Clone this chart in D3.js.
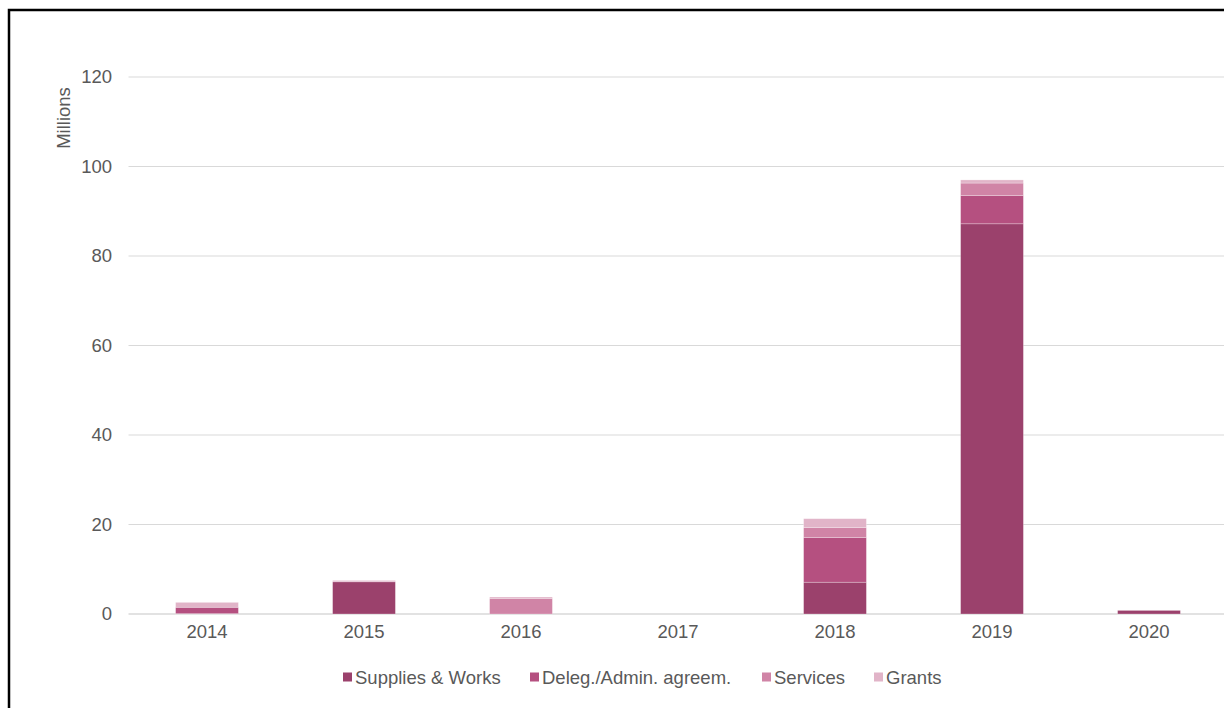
<!DOCTYPE html>
<html>
<head>
<meta charset="utf-8">
<script src="https://cdn.jsdelivr.net/npm/d3@7"></script>
<style>
  html, body { margin: 0; padding: 0; background: #fff; }
  svg { display: block; font-family: "Liberation Sans", Arial, sans-serif; }
</style>
</head>
<body>
<svg id="chart" width="1224" height="708"></svg>
<script>
// Contract amounts per year (millions), by contract type
const years = ["2014", "2015", "2016", "2017", "2018", "2019", "2020"];
const seriesNames = ["Supplies & Works", "Deleg./Admin. agreem.", "Services", "Grants"];
const suppliesWorks = [0.1, 7.2, 0, 0, 7.1, 87.2, 0.8];
const delegAdmin    = [1.4, 0, 0, 0, 10.0, 6.3, 0];
const services      = [0, 0, 3.5, 0, 2.2, 2.8, 0];
const grants        = [1.1, 0.3, 0.3, 0, 2.0, 0.7, 0];
const yTicks = [0, 20, 40, 60, 80, 100, 120];
const colors = ["#9b416c", "#b55080", "#d084a6", "#e1b4c8"];

const seriesValues = [suppliesWorks, delegAdmin, services, grants];
const rows = years.map((y, i) => {
  const r = { year: y };
  seriesNames.forEach((s, k) => { r[s] = seriesValues[k][i]; });
  return r;
});

const FONT = "18.5px";
const svg = d3.select("#chart");

// outer frame
svg.append("rect")
  .attr("x", 9).attr("y", 10)
  .attr("width", 1240).attr("height", 720)
  .attr("fill", "none").attr("stroke", "#000").attr("stroke-width", 2.5);

const plot = { left: 128.5, right: 1227.5, top: 77, bottom: 614 };

const x = d3.scaleBand().domain(years)
  .range([plot.left, plot.right])
  .paddingInner(0.6).paddingOuter(0.3);

const y = d3.scaleLinear().domain([0, 120]).range([plot.bottom, plot.top]);

// gridlines
const grid = svg.append("g");
grid.selectAll("line").data(yTicks).join("line")
  .attr("x1", plot.left).attr("x2", 1224)
  .attr("y1", d => y(d)).attr("y2", d => y(d))
  .attr("stroke", "#d9d9d9")
  .attr("stroke-width", d => d === 0 ? 1.5 : 1);

// y axis labels
const yAxis = d3.axisLeft(y).tickValues(yTicks).tickSize(0).tickPadding(0);
svg.append("g")
  .attr("transform", `translate(112,0)`)
  .call(yAxis)
  .call(g => g.select(".domain").remove())
  .call(g => g.selectAll("text")
    .attr("fill", "#595959")
    .style("font-size", FONT)
    .style("font-family", "Liberation Sans, Arial, sans-serif"));

svg.append("text")
  .attr("transform", "translate(70,118) rotate(-90)")
  .attr("text-anchor", "middle")
  .attr("fill", "#595959")
  .style("font-size", FONT)
  .text("Millions");

// stacked bars
const stack = d3.stack().keys(seriesNames);
const layers = stack(rows);

svg.append("g").selectAll("g").data(layers).join("g")
  .attr("fill", (d, i) => colors[i])
  .selectAll("rect").data(d => d).join("rect")
  .attr("x", d => x(d.data.year))
  .attr("width", x.bandwidth())
  .attr("y", d => y(d[1]))
  .attr("height", d => Math.max(0, y(d[0]) - y(d[1])))
  .attr("stroke", "#ffffff")
  .attr("stroke-opacity", 0.35)
  .attr("stroke-width", d => (d[1] - d[0]) > 0 ? 0.75 : 0);

// x axis labels
const xAxis = d3.axisBottom(x).tickSize(0).tickPadding(0);
svg.append("g")
  .attr("transform", `translate(0,625)`)
  .call(xAxis)
  .call(g => g.select(".domain").remove())
  .call(g => g.selectAll("text")
    .attr("fill", "#595959")
    .style("font-size", FONT)
    .style("font-family", "Liberation Sans, Arial, sans-serif"));

// legend
const legendX = [343, 530, 762, 874];
const legend = svg.append("g");
const items = legend.selectAll("g").data(seriesNames).join("g")
  .attr("transform", (d, i) => `translate(${legendX[i]},677)`);
items.append("rect")
  .attr("x", 0).attr("y", -4.5).attr("width", 9).attr("height", 9)
  .attr("fill", (d, i) => colors[i]);
items.append("text")
  .attr("x", 12).attr("y", 6.5)
  .attr("fill", "#595959")
  .style("font-size", FONT)
  .text(d => d);
</script>
</body>
</html>
